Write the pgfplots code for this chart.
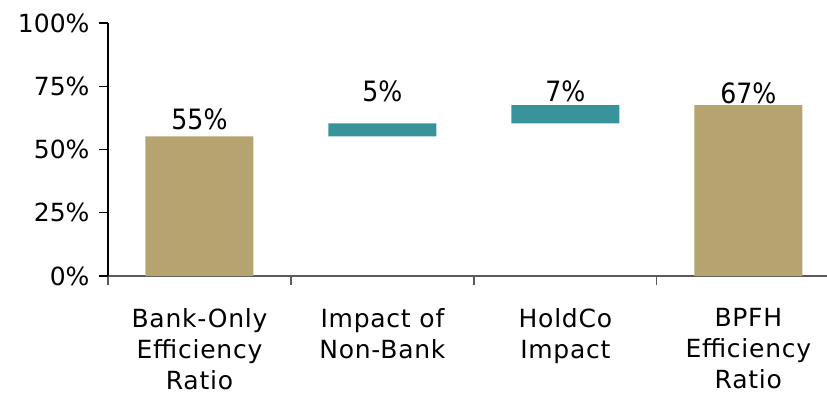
\documentclass[border=0pt]{standalone}
\usepackage{fontspec}
\setmainfont{DejaVu Sans}
\newfontfamily\condfont{DejaVu Sans Condensed}
\newfontfamily\catfont[LetterSpace=3]{DejaVu Sans}
\usepackage{pgfplots}
\pgfplotsset{compat=1.18}
\definecolor{barTan}{RGB}{181,164,112}
\definecolor{barTeal}{RGB}{56,147,155}
\definecolor{axGray}{RGB}{90,90,90}
\begin{document}
\begin{tikzpicture}[x=1pt,y=1pt]
\useasboundingbox (-108,-125) rectangle (719,276);
\begin{axis}[
  at={(0,0)}, anchor=south west,
  scale only axis, width=719pt, height=253pt,
  xmin=-0.5, xmax=3.43, ymin=0, ymax=100,
  ybar stacked, bar width=108pt,
  axis x line*=bottom, axis y line*=left,
  x axis line style={axGray, line width=1.2pt},
  y axis line style={black, line width=1.1pt},
  tick align=outside, major tick length=9pt,
  xtick={-0.5,0.5,1.5,2.5}, xticklabels={},
  x tick style={axGray, line width=1.2pt},
  y tick style={black, line width=1.1pt},
  ytick={0,25,50,75,100},
  yticklabels={0\%,25\%,50\%,75\%,100\%},
  yticklabel style={font=\fontsize{25}{30}\selectfont, xshift=-6pt},
  extra x ticks={0,1,2,3},
  extra x tick labels={{Bank-Only\\Efficiency\\Ratio},{Impact of\\Non-Bank},{HoldCo\\Impact},{BPFH\\Efficiency\\Ratio}},
  extra x tick style={major tick length=0pt, tick style={draw=none},
    tick label style={align=center, anchor=north, yshift=-29pt,
      font=\catfont\fontsize{25}{31}\selectfont}},
  clip=false,
]
\addplot[draw=none, fill=none, forget plot] coordinates {(0,0) (1,55.2) (2,60.3) (3,0)};
\addplot[draw=none, fill=barTeal] coordinates {(0,0) (1,5.1) (2,7.2) (3,0)};
\addplot[draw=none, fill=barTan] coordinates {(0,55.2) (1,0) (2,0) (3,67.5)};
\node[anchor=base, font=\condfont\fontsize{28}{32}\selectfont] at (axis cs:0,58.1) {55\%};
\node[anchor=base, font=\condfont\fontsize{28}{32}\selectfont] at (axis cs:1,68.8) {5\%};
\node[anchor=base, font=\condfont\fontsize{28}{32}\selectfont] at (axis cs:2,68.8) {7\%};
\node[anchor=base, font=\condfont\fontsize{28}{32}\selectfont] at (axis cs:3,68.0) {67\%};
\end{axis}
\end{tikzpicture}
\end{document}
